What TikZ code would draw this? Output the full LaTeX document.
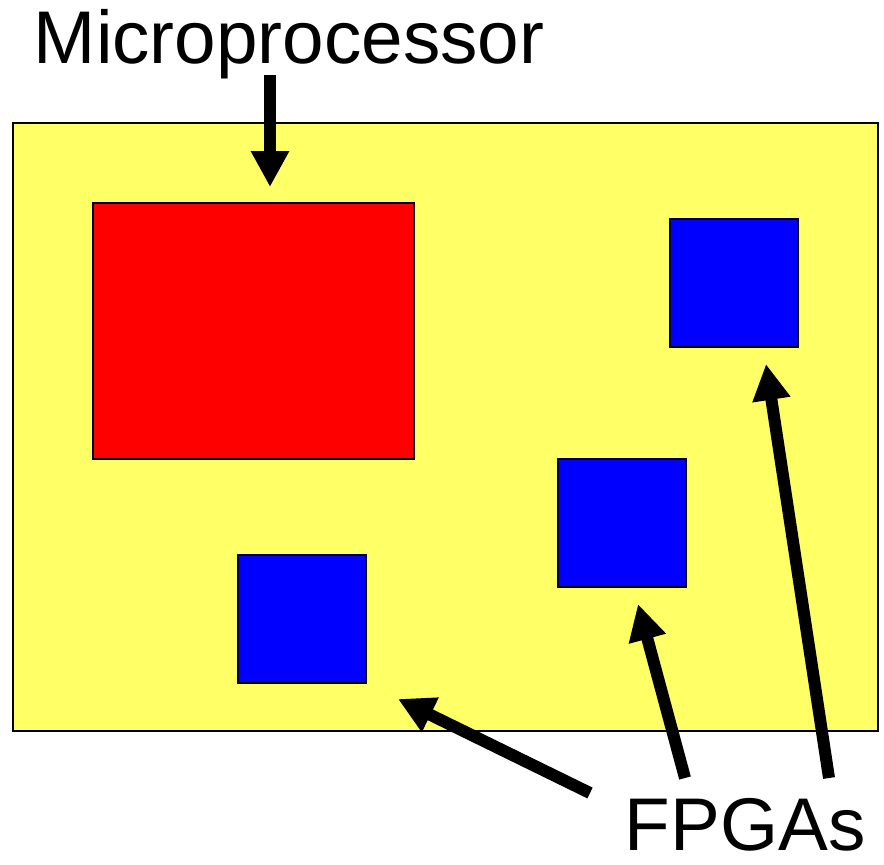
\documentclass[tikz,border=0pt]{standalone}
\usepackage{fontspec}
\setmainfont{Liberation Sans}
\usetikzlibrary{arrows.meta}
\definecolor{board}{HTML}{FFFF66}
\definecolor{cpu}{HTML}{FF0000}
\definecolor{fpga}{HTML}{0000FF}
\tikzset{
  chip/.style={draw=black, line width=1.5pt, inner sep=0pt, outer sep=0pt},
  fpgabox/.style={chip, fill=fpga, minimum width=96pt, minimum height=96pt},
  bigarrow/.style={line width=9pt, -{Triangle[width=27pt,length=27pt]}},
  lbl/.style={font=\fontsize{56}{60}\selectfont, inner sep=0pt, anchor=base}
}
\begin{document}
\begin{tikzpicture}[x=0.75pt,y=-0.75pt]
\useasboundingbox (0,0) rectangle (884,864);
\node[chip, fill=board, minimum width=648.75pt, minimum height=456pt] (board) at (445.5,427) {};
\node[chip, fill=cpu, minimum width=240.75pt, minimum height=192pt] (cpu) at (253.5,331) {};
\node[fpgabox] (f1) at (734,283) {};
\node[fpgabox] (f2) at (622,523) {};
\node[fpgabox] (f3) at (302,619) {};
\node[lbl] (micro) at (289,63) {Microprocessor};
\node[lbl] (fpgas) at (745,850) {FPGAs};
\coordinate (mtail) at (270,75);
\coordinate (mtip) at (270,187);
\coordinate (t1) at (829,778);
\coordinate (p1) at (766,364);
\coordinate (t2) at (685,778);
\coordinate (p2) at (638,604);
\coordinate (t3) at (590,793);
\coordinate (p3) at (398,699);
\draw[bigarrow] (mtail) -- (mtip);
\draw[bigarrow] (t1) -- (p1);
\draw[bigarrow] (t2) -- (p2);
\draw[bigarrow] (t3) -- (p3);
\end{tikzpicture}
\end{document}
